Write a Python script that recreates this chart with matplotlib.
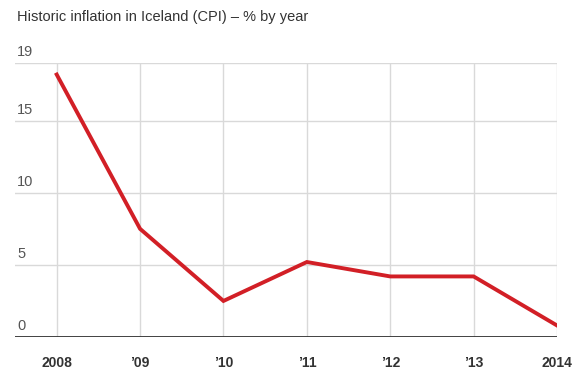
import matplotlib
matplotlib.use('Agg')
import matplotlib.pyplot as plt

# data
years = [2008, 2009, 2010, 2011, 2012, 2013, 2014]
inflation = [18.2, 7.5, 2.5, 5.2, 4.2, 4.2, 0.8]
x_labels = ['2008', '\u201909', '\u201910', '\u201911', '\u201912', '\u201913', '2014']
y_ticks = [0, 5, 10, 15, 19]

plt.rcParams['font.family'] = ['Liberation Sans', 'DejaVu Sans']

fig = plt.figure(figsize=(5.81, 3.85), dpi=100)
ax = fig.add_axes([15 / 581, 1 - 337 / 385, 542 / 581, 274 / 385])

# grid
for y in y_ticks[1:]:
    ax.axhline(y, color='#d9d9d9', lw=1, zorder=1)
for x in years:
    ax.axvline(x, color='#d9d9d9', lw=1, zorder=1)
ax.axhline(0, color='#333333', lw=1.3, zorder=3)

ax.plot(years, inflation, color='#d21f26', lw=2.8, solid_joinstyle='miter', zorder=4)

ax.set_xlim(2007.5, 2014)
ax.set_ylim(0, 19)
for s in ax.spines.values():
    s.set_visible(False)
ax.set_xticks([])
ax.set_yticks([])

# y labels sit above the grid lines
for y in y_ticks:
    ax.annotate(str(y), xy=(0, y), xycoords=('axes fraction', 'data'),
                xytext=(1.5, 3), textcoords='offset points',
                ha='left', va='bottom', fontsize=10.5, color='#555555')

for x, lab in zip(years, x_labels):
    ax.annotate(lab, xy=(x, 0), xycoords='data',
                xytext=(0, -19), textcoords='offset points',
                ha='center', va='center', fontsize=10, fontweight='bold',
                color='#333333', annotation_clip=False)

fig.text(17 / 581, 1 - 17 / 385, 'Historic inflation in Iceland (CPI) \u2013 % by year',
         ha='left', va='center', fontsize=10.5, color='#333333')

fig.savefig('out.png', dpi=100)
